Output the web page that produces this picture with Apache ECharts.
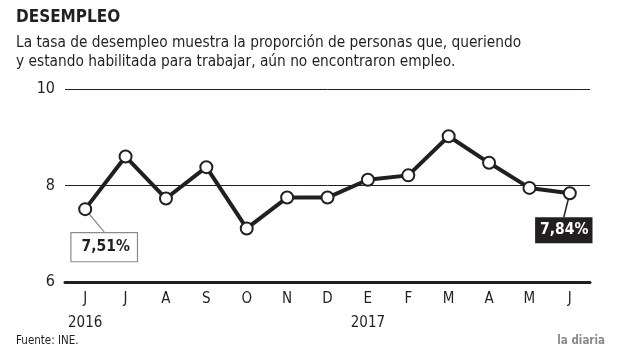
<!DOCTYPE html>
<html><head><meta charset="utf-8">
<script src="https://cdn.jsdelivr.net/npm/echarts@6/dist/echarts.min.js"></script>
<style>html,body{margin:0;padding:0;background:#fff}#c{width:621px;height:362px}</style>
</head><body><div id="c"></div>
<script>
var months = ['J','J','A','S','O','N','D','E','F','M','A','M','J'];
var years = ['2016','','','','','','','2017','','','','',''];
var rate = [7.51, 8.60, 7.73, 8.38, 7.11, 7.75, 7.75, 8.12, 8.21, 9.02, 8.47, 7.95, 7.84];
var yTicks = [6, 8, 10];
var FONT = '"Liberation Sans Narrow","DejaVu Sans Condensed","Roboto",sans-serif';
var INK = '#231f20';
var chart = echarts.init(document.getElementById('c'), null, {renderer:'canvas'});
var data = rate.map(function(v, i){
  var item = {value: v};
  if (i === 0) {
    item.label = {show:true, position:'inside', formatter: '7,51%', color: INK, fontWeight:'bold', fontSize:15.5,
      fontFamily: FONT, backgroundColor:'#fff', borderColor:'#8a8a8a', borderWidth:1.2, padding:[7,7,5,10]};
    item.labelLine = {show:true, lineStyle:{color:'#8a8a8a', width:1.2}};
  } else if (i === rate.length - 1) {
    item.label = {show:true, position:'inside', formatter: '7,84%', color:'#fff', fontWeight:'bold', fontSize:15.5,
      fontFamily: FONT, backgroundColor: INK, padding:[6,4,4,5]};
    item.labelLine = {show:true, lineStyle:{color: INK, width:1.5}};
  }
  return item;
});
chart.setOption({
  animation:false,
  title:[
    {text:'DESEMPLEO', left:16, top:9, padding:0, textStyle:{fontFamily:FONT, fontWeight:'bold', fontSize:17, color:INK}},
    {text:'La tasa de desempleo muestra la proporción de personas que, queriendo\ny estando habilitada para trabajar, aún no encontraron empleo.',
     left:16, top:34, padding:0, textStyle:{fontFamily:FONT, fontWeight:'normal', fontSize:15.3, color:INK, lineHeight:19}},
    {text:'Fuente: INE.', left:16, top:335, padding:0, textStyle:{fontFamily:FONT, fontWeight:'normal', fontSize:11.5, color:INK}},
    {text:'la diaria', right:16, top:335, padding:0, textStyle:{fontFamily:FONT, fontWeight:'bold', fontSize:11.5, color:'#8a8a8a'}}
  ],
  grid:{left:65, right:31, top:89, bottom:80},
  xAxis:{type:'category', data:months, boundaryGap:true,
    axisLine:{show:true, lineStyle:{color:INK, width:3}},
    axisTick:{show:false},
    axisLabel:{interval:0, margin:5, color:INK, fontFamily:FONT, fontSize:15, lineHeight:24,
      formatter:function(v, i){ return v + '\n' + years[i]; }}
  },
  yAxis:{type:'value', min:yTicks[0], max:yTicks[yTicks.length-1], interval:2,
    axisLine:{show:false}, axisTick:{show:false},
    axisLabel:{margin:10, color:INK, fontFamily:FONT, fontSize:16},
    splitLine:{show:true, lineStyle:{color:INK, width:1}}
  },
  series:[{
    type:'line', data:data, symbol:'circle', symbolSize:12,
    itemStyle:{color:'#fff', borderColor:INK, borderWidth:2},
    lineStyle:{color:INK, width:4},
    z:5,
    labelLayout:function(p){
      if (p.dataIndex === 0) return {dx:19, dy:38};
      if (p.dataIndex === rate.length - 1) return {dx:-6, dy:37};
      return {};
    }
  }]
});
</script></body></html>
